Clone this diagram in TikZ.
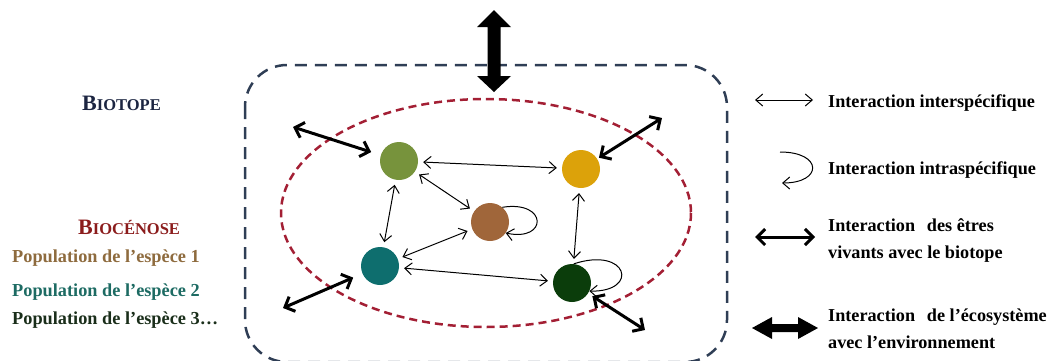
\documentclass[tikz,border=0pt]{standalone}
\usepackage{fontspec}
\setmainfont{Liberation Serif}
\usetikzlibrary{arrows.meta}

\definecolor{biotopeC}{HTML}{2F3E55}
\definecolor{biocC}{HTML}{A31F34}
\definecolor{spA}{HTML}{77933C}
\definecolor{spB}{HTML}{DCA20A}
\definecolor{spC}{HTML}{A0663A}
\definecolor{spD}{HTML}{0E6E6E}
\definecolor{spE}{HTML}{0B3D0B}
\definecolor{txtBiotope}{HTML}{1C2541}
\definecolor{txtBioc}{HTML}{8B1C1C}
\definecolor{txtPopA}{HTML}{8E6B3E}
\definecolor{txtPopB}{HTML}{1D6B63}
\definecolor{txtPopC}{HTML}{1A2E1A}

\newcommand{\popfont}{\fontsize{18.3}{22}\selectfont\bfseries}
\newcommand{\legfont}{\fontsize{18.2}{26.5}\selectfont\bfseries}
\newcommand{\capfont}[2]{{\fontsize{22}{24}\selectfont\bfseries #1}{\fontsize{16.5}{20}\selectfont\bfseries #2}}

\begin{document}
\begin{tikzpicture}[x=1pt,y=-1pt,
  species/.style={circle, minimum size=38pt, inner sep=0pt, draw=none},
  inter/.style={line width=1pt, {Straight Barb[length=7pt,width=12pt]}-{Straight Barb[length=7pt,width=12pt]}, shorten <=5pt, shorten >=5pt},
  intra/.style={line width=1pt, -{Straight Barb[length=7pt,width=12pt]}},
  milieu/.style={line width=3pt, {Straight Barb[length=8pt,width=16pt,line width=3pt]}-{Straight Barb[length=8pt,width=16pt,line width=3pt]}},
  label/.style={anchor=base west, inner sep=0pt, align=left},
  legend/.style={label, font=\legfont},
]
\useasboundingbox (0,0) rectangle (1050,360);
\clip (0,0) rectangle (1050,360);

% biotope boundary and biocenose
\draw[biotopeC, line width=2.5pt, dash pattern=on 12pt off 8pt, rounded corners=42pt]
  (245,65) rectangle (727,362);
\draw[biocC, line width=2.5pt, dash pattern=on 8pt off 5pt]
  (486,213) ellipse [x radius=205, y radius=114];

% ecosystem <-> environment
\fill (494,10) -- (511,27) -- (500.5,27) -- (500.5,76) -- (511,76) -- (494,92)
  -- (477,76) -- (487.5,76) -- (487.5,27) -- (477,27) -- cycle;

% species populations
\node[species, fill=spA] (n1) at (399,161) {};
\node[species, fill=spB] (n2) at (581,169) {};
\node[species, fill=spC] (n3) at (490,222) {};
\node[species, fill=spD] (n4) at (380,266) {};
\node[species, fill=spE] (n5) at (572,283) {};

% interspecific interactions
\draw[inter] (n1) -- (n2);
\draw[inter] (n1) -- (n4);
\draw[inter] (n1) -- (n3);
\draw[inter] (n4) -- (n3);
\draw[inter] (n4) -- (n5);
\draw[inter] (n2) -- (n5);

% intraspecific interactions
\draw[intra] (n3.50) .. controls (548,200) and (548,242) .. (n3.-35);
\draw[intra] (n5.85) .. controls (628,246) and (640,292) .. (n5.-25);

% living beings <-> biotope
\coordinate (e1) at (293,127);
\coordinate (e2) at (662,118);
\coordinate (e3) at (283,308);
\coordinate (e4) at (645,330);
\draw[milieu, shorten >=10pt] (e1) -- (n1);
\draw[milieu, shorten >=2pt] (e2) -- (n2);
\draw[milieu, shorten >=10pt] (e3) -- (n4);
\draw[milieu, shorten >=5pt] (e4) -- (n5);

% left labels
\node[label, text=txtBiotope] (tBiotope) at (82,110) {\capfont{B}{IOTOPE}};
\node[label, text=txtBioc] (tBioc) at (78,234) {\capfont{B}{IOCÉNOSE}};
\node[label, font=\popfont, text=txtPopA] (tPopA) at (12,262) {Population de l’espèce 1};
\node[label, font=\popfont, text=txtPopB] (tPopB) at (12,296) {Population de l’espèce 2};
\node[label, font=\popfont, text=txtPopC] (tPopC) at (12,324) {Population de l’espèce 3…};

% legend
\coordinate (l1a) at (755,100);
\coordinate (l1b) at (813,100);
\draw[line width=1pt, {Straight Barb[length=7pt,width=12pt]}-{Straight Barb[length=7pt,width=12pt]}] (l1a) -- (l1b);
\node[legend] (t1) at (828,107) {Interaction interspécifique};

\coordinate (l2a) at (780,152);
\coordinate (l2b) at (782,183);
\draw[intra] (l2a) .. controls (823,152) and (823,183) .. (l2b);
\node[legend] (t2) at (828,174) {Interaction intraspécifique};

\coordinate (l3a) at (755,237);
\coordinate (l3b) at (815,237);
\draw[milieu] (l3a) -- (l3b);
\node[legend] (t3) at (828,258) {Interaction\hspace{0.4em} des êtres\\ vivants avec le biotope};

\fill (752,328) -- (772,317) -- (772,324) -- (798,324) -- (798,317) -- (818,328)
  -- (798,339) -- (798,332) -- (772,332) -- (772,339) -- cycle;
\node[legend] (t4) at (828,348) {Interaction\hspace{0.4em} de l’écosystème\\ avec l’environnement};
\end{tikzpicture}
\end{document}
